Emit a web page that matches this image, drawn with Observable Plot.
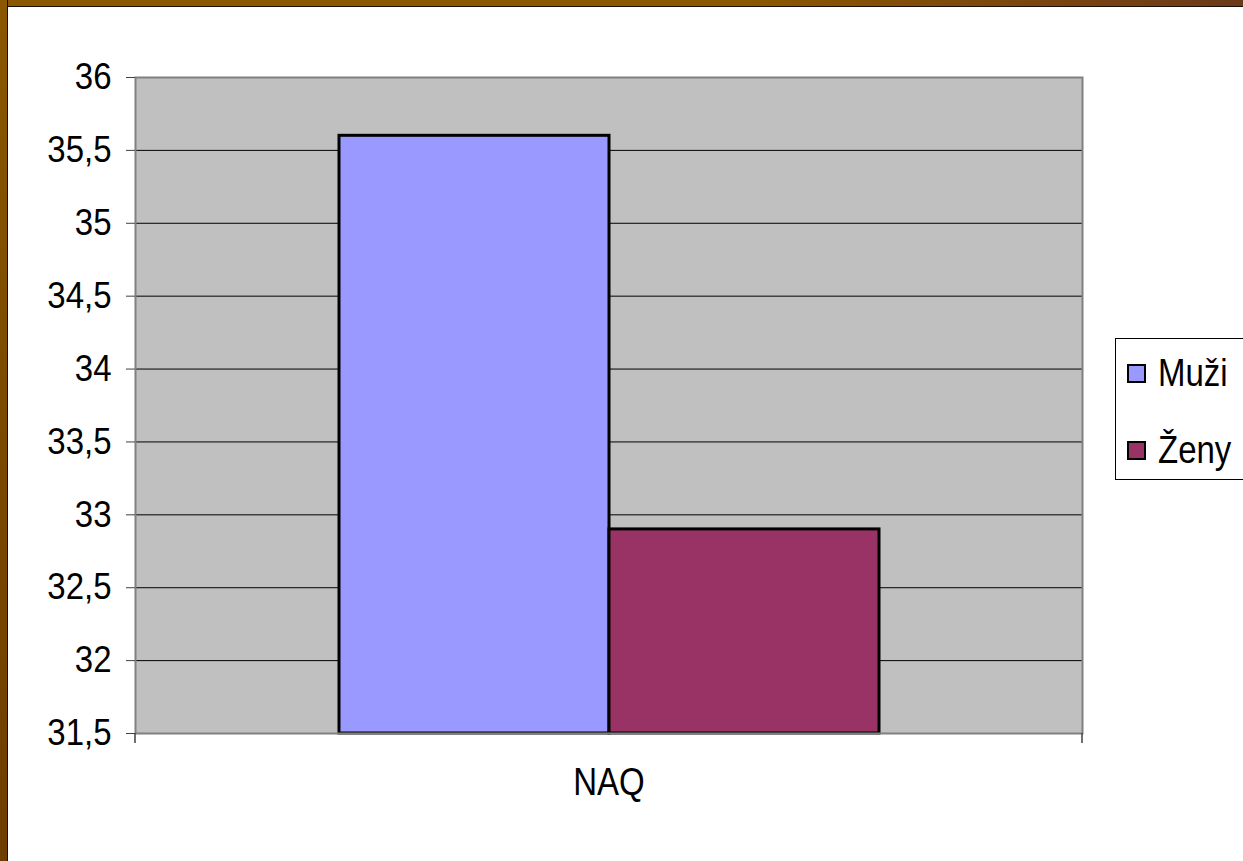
<!DOCTYPE html>
<html>
<head>
<meta charset="utf-8">
<script src="https://cdn.jsdelivr.net/npm/d3@7"></script>
<script src="https://cdn.jsdelivr.net/npm/@observablehq/plot@0.6"></script>
<style>
  html, body { margin: 0; padding: 0; background: #fff; width: 1243px; height: 861px; overflow: hidden; }
  #wrap { position: relative; width: 1243px; height: 861px; }
  #chart { position: absolute; left: 0; top: 0; }
  #topbar { position: absolute; left: 0; top: 0; width: 1243px; height: 6px;
    background: linear-gradient(to right, #8a5800 0%, #8a5800 60%, #7a4410 85%, #6a3a1a 100%);
    border-bottom: 1px solid #1a1008; }
  #leftbar { position: absolute; left: 0; top: 0; width: 7px; height: 861px;
    background: linear-gradient(to bottom, #8a5800 0%, #7a4a00 50%, #6e3e00 100%);
    border-right: 1px solid #1a1008; }
  #legend { position: absolute; left: 1115px; top: 338px; width: 140px; height: 140px;
    border: 1px solid #000; background: #fff; font-family: "Liberation Sans", Arial, sans-serif; font-size: 33px; }
  .item { position: absolute; left: 11px; display: flex; align-items: center; height: 40px; }
  .item span { display: inline-block; transform: scaleY(1.2); }
  .sw { width: 15px; height: 15px; border: 2px solid #000; margin-right: 12px; }
</style>
</head>
<body>
<div id="wrap">
  <div id="chart"></div>
  <div id="topbar"></div>
  <div id="leftbar"></div>
  <div id="legend"></div>
</div>
<script>
const category = "NAQ";
const series = ["Muži", "Ženy"];
const values = [35.6, 32.9];
const colors = ["#9999ff", "#993366"];
const yTicks = [31.5, 32, 32.5, 33, 33.5, 34, 34.5, 35, 35.5, 36];

const data = series.map((s, i) => ({series: s, value: values[i]}));
const fmt = d => String(d).replace(".", ",");

const W = 1243, H = 861;
const mL = 135, mR = 161, mT = 77, mB = 128;

const plot = Plot.plot({
  width: W, height: H,
  marginLeft: mL, marginRight: mR, marginTop: mT, marginBottom: mB,
  style: {fontFamily: "'Liberation Sans', Arial, sans-serif", fontSize: "33px", color: "#000", background: "transparent"},
  x: {domain: series, paddingInner: 0, paddingOuter: 0.75, axis: null},
  y: {domain: [31.5, 36], ticks: yTicks, tickFormat: fmt, label: null, tickSize: 9, tickPadding: 15},
  color: {domain: series, range: colors},
  marks: [
    Plot.frame({fill: "#c0c0c0"}),
    Plot.gridY(yTicks, {stroke: "#000", strokeOpacity: 1, strokeWidth: 1}),
    Plot.barY(data, {x: "series", y1: 31.5, y2: "value", fill: "series", stroke: "#000", strokeWidth: 3, insetLeft: 0, insetRight: 0}),
    Plot.frame({stroke: "#808080", strokeWidth: 2}),
    Plot.axisY({ticks: yTicks, tickFormat: fmt, tickSize: 9, tickPadding: 15, stroke: "#404040", fontSize: 33}),
    Plot.text([category], {text: d => d, frameAnchor: "bottom", dy: 60, fontSize: 33, fill: "#000"})
  ]
});
document.getElementById("chart").appendChild(plot);

// small category boundary ticks below the plot frame
const svg = d3.select(plot);
[mL, W - mR].forEach(x => {
  svg.append("line").attr("x1", x).attr("x2", x).attr("y1", H - mB).attr("y2", H - mB + 10)
    .attr("stroke", "#404040").attr("stroke-width", 1.5);
});

// stretch texts vertically (reference glyphs are taller than wide)
const svgns = "http://www.w3.org/2000/svg";
svg.selectAll("text").each(function() {
  const b = this.getBBox();
  let cx = b.x + b.width / 2, cy = b.y + b.height / 2;
  const c = this.transform.baseVal.consolidate();
  if (c) {
    const m = c.matrix;
    const x = m.a * cx + m.c * cy + m.e, y = m.b * cx + m.d * cy + m.f;
    cx = x; cy = y;
  }
  const k = this.textContent === category ? 1.15 : 1.1;
  const g = document.createElementNS(svgns, "g");
  this.parentNode.insertBefore(g, this);
  g.appendChild(this);
  g.setAttribute("transform", `translate(${cx},${cy}) scale(1,${k}) translate(${-cx},${-cy})`);
});

// legend
const leg = d3.select("#legend");
const tops = [14, 91];
series.forEach((s, i) => {
  const it = leg.append("div").attr("class", "item").style("top", tops[i] + "px");
  it.append("div").attr("class", "sw").style("background", colors[i]);
  it.append("span").text(s);
});
</script>
</body>
</html>
